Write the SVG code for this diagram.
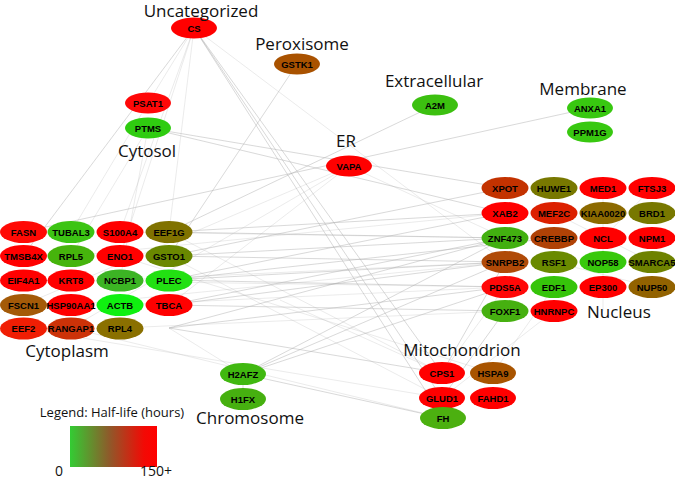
<svg xmlns="http://www.w3.org/2000/svg" width="675" height="479" viewBox="0 0 675 479">
<defs>
<style>
.n ellipse{stroke:none}
.n text{font-family:"Liberation Sans",Arial,sans-serif;font-weight:bold;font-size:9.5px;fill:#000;text-anchor:middle;dominant-baseline:central}
.lab{font-family:"Open Sans","Noto Sans",sans-serif;font-size:17px;fill:#111}
.e line{stroke:#b0b0b0;stroke-width:0.65;stroke-opacity:0.75}
.e line.f{stroke-opacity:0.4}
</style>
<linearGradient id="lg" x1="0" y1="0" x2="1" y2="0">
<stop offset="0" stop-color="#33cc33"/>
<stop offset="0.45" stop-color="#8e5a2a"/>
<stop offset="0.85" stop-color="#f20a05"/>
<stop offset="1" stop-color="#ff0000"/>
</linearGradient>
</defs>
<rect width="675" height="479" fill="#fff"/>
<g id="connectors" class="e">
<line x1="194" y1="28" x2="23" y2="256"/>
<line x1="194" y1="28" x2="120" y2="232" class="f"/>
<line x1="194" y1="28" x2="120" y2="256" class="f"/>
<line x1="194" y1="28" x2="169" y2="232" class="f"/>
<line x1="194" y1="28" x2="148" y2="103" class="f"/>
<line x1="194" y1="28" x2="442" y2="373"/>
<line x1="194" y1="28" x2="442" y2="398"/>
<line x1="194" y1="28" x2="443" y2="418"/>
<line x1="194" y1="28" x2="505" y2="262" class="f"/>
<line x1="297" y1="64" x2="169" y2="256"/>
<line x1="435" y1="105" x2="169" y2="232"/>
<line x1="590" y1="108" x2="23" y2="232"/>
<line x1="148" y1="128" x2="505" y2="188"/>
<line x1="148" y1="128" x2="505" y2="213"/>
<line x1="148" y1="128" x2="71" y2="256" class="f"/>
<line x1="148" y1="103" x2="71" y2="232" class="f"/>
<line x1="148" y1="128" x2="120" y2="280" class="f"/>
<line x1="349" y1="166" x2="169" y2="305" class="f"/>
<line x1="349" y1="166" x2="71" y2="328" class="f"/>
<line x1="349" y1="166" x2="505" y2="238" class="f"/>
<line x1="349" y1="166" x2="23" y2="305" class="f"/>
<line x1="169" y1="232" x2="505" y2="213"/>
<line x1="169" y1="232" x2="505" y2="238"/>
<line x1="169" y1="256" x2="505" y2="188"/>
<line x1="169" y1="256" x2="505" y2="262"/>
<line x1="169" y1="256" x2="505" y2="238"/>
<line x1="169" y1="280" x2="505" y2="213"/>
<line x1="169" y1="280" x2="505" y2="287"/>
<line x1="169" y1="280" x2="554" y2="238"/>
<line x1="169" y1="280" x2="505" y2="262"/>
<line x1="169" y1="305" x2="505" y2="238"/>
<line x1="169" y1="305" x2="505" y2="311"/>
<line x1="169" y1="305" x2="505" y2="262"/>
<line x1="169" y1="328" x2="505" y2="287"/>
<line x1="169" y1="328" x2="505" y2="238"/>
<line x1="169" y1="328" x2="442" y2="373"/>
<line x1="120" y1="328" x2="505" y2="311" class="f"/>
<line x1="120" y1="305" x2="505" y2="287" class="f"/>
<line x1="120" y1="280" x2="505" y2="262" class="f"/>
<line x1="71" y1="305" x2="505" y2="262" class="f"/>
<line x1="23" y1="328" x2="442" y2="398" class="f"/>
<line x1="71" y1="328" x2="443" y2="418" class="f"/>
<line x1="120" y1="232" x2="505" y2="238" class="f"/>
<line x1="71" y1="256" x2="505" y2="213" class="f"/>
<line x1="23" y1="280" x2="505" y2="287" class="f"/>
<line x1="169" y1="232" x2="442" y2="373" class="f"/>
<line x1="169" y1="256" x2="442" y2="398" class="f"/>
<line x1="120" y1="256" x2="493" y2="373" class="f"/>
<line x1="243" y1="374" x2="505" y2="238"/>
<line x1="243" y1="374" x2="505" y2="262"/>
<line x1="243" y1="374" x2="505" y2="287"/>
<line x1="243" y1="374" x2="443" y2="418"/>
<line x1="243" y1="374" x2="243" y2="399"/>
<line x1="243" y1="374" x2="169" y2="328" class="f"/>
<line x1="505" y1="262" x2="442" y2="373"/>
<line x1="505" y1="311" x2="442" y2="398"/>
<line x1="554" y1="287" x2="493" y2="373" class="f"/>
<line x1="505" y1="287" x2="442" y2="373" class="f"/>
<line x1="554" y1="311" x2="442" y2="398" class="f"/>
<line x1="442" y1="373" x2="280" y2="300" class="f"/>
<line x1="603" y1="188" x2="603" y2="311" class="f"/>
<line x1="554" y1="213" x2="652" y2="262" class="f"/>
<line x1="603" y1="238" x2="652" y2="188" class="f"/>
<line x1="554" y1="262" x2="652" y2="287" class="f"/>
</g>
<g id="n-CS" class="n"><ellipse cx="194" cy="28" rx="23" ry="10.5" fill="#ff0000"/><text x="194" y="28">CS</text></g>
<g id="n-GSTK1" class="n"><ellipse cx="297" cy="64" rx="23" ry="10.5" fill="#a95200"/><text x="297" y="64">GSTK1</text></g>
<g id="n-PSAT1" class="n"><ellipse cx="148" cy="103" rx="23" ry="10.5" fill="#ff0808"/><text x="148" y="103">PSAT1</text></g>
<g id="n-PTMS" class="n"><ellipse cx="148" cy="128" rx="23" ry="10.5" fill="#2fcc10"/><text x="148" y="128">PTMS</text></g>
<g id="n-A2M" class="n"><ellipse cx="435" cy="105" rx="23" ry="10.5" fill="#3cc010"/><text x="435" y="105">A2M</text></g>
<g id="n-ANXA1" class="n"><ellipse cx="590" cy="108" rx="23" ry="10.5" fill="#38c810"/><text x="590" y="108">ANXA1</text></g>
<g id="n-PPM1G" class="n"><ellipse cx="590" cy="132" rx="23" ry="10.5" fill="#38c810"/><text x="590" y="132">PPM1G</text></g>
<g id="n-VAPA" class="n"><ellipse cx="349" cy="166" rx="23" ry="10.5" fill="#ff0000"/><text x="349" y="166">VAPA</text></g>
<g id="n-FASN" class="n"><ellipse cx="23.5" cy="232" rx="23.5" ry="11" fill="#ff0a05"/><text x="23.5" y="232">FASN</text></g>
<g id="n-TUBAL3" class="n"><ellipse cx="71" cy="232" rx="23.5" ry="11" fill="#3cc414"/><text x="71" y="232">TUBAL3</text></g>
<g id="n-S100A4" class="n"><ellipse cx="120" cy="232" rx="23.5" ry="11" fill="#ff0000"/><text x="120" y="232">S100A4</text></g>
<g id="n-EEF1G" class="n"><ellipse cx="169" cy="232" rx="23.5" ry="11" fill="#807200"/><text x="169" y="232">EEF1G</text></g>
<g id="n-TMSB4X" class="n"><ellipse cx="23.5" cy="256" rx="23.5" ry="11" fill="#ff0000"/><text x="23.5" y="256">TMSB4X</text></g>
<g id="n-RPL5" class="n"><ellipse cx="71" cy="256" rx="23.5" ry="11" fill="#46b40c"/><text x="71" y="256">RPL5</text></g>
<g id="n-ENO1" class="n"><ellipse cx="120" cy="256" rx="23.5" ry="11" fill="#ff0000"/><text x="120" y="256">ENO1</text></g>
<g id="n-GSTO1" class="n"><ellipse cx="169" cy="256" rx="23.5" ry="11" fill="#6a8800"/><text x="169" y="256">GSTO1</text></g>
<g id="n-EIF4A1" class="n"><ellipse cx="23.5" cy="280.5" rx="23.5" ry="11" fill="#ff0000"/><text x="23.5" y="280.5">EIF4A1</text></g>
<g id="n-KRT8" class="n"><ellipse cx="71" cy="280.5" rx="23.5" ry="11" fill="#ff0000"/><text x="71" y="280.5">KRT8</text></g>
<g id="n-NCBP1" class="n"><ellipse cx="120" cy="280.5" rx="23.5" ry="11" fill="#3cb424"/><text x="120" y="280.5">NCBP1</text></g>
<g id="n-PLEC" class="n"><ellipse cx="169" cy="280.5" rx="23.5" ry="11" fill="#22e012"/><text x="169" y="280.5">PLEC</text></g>
<g id="n-FSCN1" class="n"><ellipse cx="23.5" cy="305" rx="23.5" ry="11" fill="#a45a08"/><text x="23.5" y="305">FSCN1</text></g>
<g id="n-HSP90AA1" class="n"><ellipse cx="71" cy="305" rx="23.5" ry="11" fill="#ff0000"/><text x="71" y="305">HSP90AA1</text></g>
<g id="n-ACTB" class="n"><ellipse cx="120" cy="305" rx="23.5" ry="11" fill="#10f010"/><text x="120" y="305">ACTB</text></g>
<g id="n-TBCA" class="n"><ellipse cx="169" cy="305" rx="23.5" ry="11" fill="#ff0000"/><text x="169" y="305">TBCA</text></g>
<g id="n-EEF2" class="n"><ellipse cx="23.5" cy="328.5" rx="23.5" ry="11" fill="#f01e04"/><text x="23.5" y="328.5">EEF2</text></g>
<g id="n-RANGAP1" class="n"><ellipse cx="71" cy="328.5" rx="23.5" ry="11" fill="#cc3208"/><text x="71" y="328.5">RANGAP1</text></g>
<g id="n-RPL4" class="n"><ellipse cx="120" cy="328.5" rx="23.5" ry="11" fill="#8a7000"/><text x="120" y="328.5">RPL4</text></g>
<g id="n-XPOT" class="n"><ellipse cx="505" cy="188" rx="23.5" ry="11" fill="#c33200"/><text x="505" y="188">XPOT</text></g>
<g id="n-HUWE1" class="n"><ellipse cx="554" cy="188" rx="23.5" ry="11" fill="#787800"/><text x="554" y="188">HUWE1</text></g>
<g id="n-MED1" class="n"><ellipse cx="603" cy="188" rx="23.5" ry="11" fill="#ff0000"/><text x="603" y="188">MED1</text></g>
<g id="n-FTSJ3" class="n"><ellipse cx="652" cy="188" rx="23.5" ry="11" fill="#ff0000"/><text x="652" y="188">FTSJ3</text></g>
<g id="n-XAB2" class="n"><ellipse cx="505" cy="213" rx="23.5" ry="11" fill="#ff0000"/><text x="505" y="213">XAB2</text></g>
<g id="n-MEF2C" class="n"><ellipse cx="554" cy="213" rx="23.5" ry="11" fill="#dc2000"/><text x="554" y="213">MEF2C</text></g>
<g id="n-KIAA0020" class="n"><ellipse cx="603" cy="213" rx="23.5" ry="11" fill="#8c6a00"/><text x="603" y="213">KIAA0020</text></g>
<g id="n-BRD1" class="n"><ellipse cx="652" cy="213" rx="23.5" ry="11" fill="#787800"/><text x="652" y="213">BRD1</text></g>
<g id="n-ZNF473" class="n"><ellipse cx="505" cy="238" rx="23.5" ry="11" fill="#42b010"/><text x="505" y="238">ZNF473</text></g>
<g id="n-CREBBP" class="n"><ellipse cx="554" cy="238" rx="23.5" ry="11" fill="#b04206"/><text x="554" y="238">CREBBP</text></g>
<g id="n-NCL" class="n"><ellipse cx="603" cy="238" rx="23.5" ry="11" fill="#ff0000"/><text x="603" y="238">NCL</text></g>
<g id="n-NPM1" class="n"><ellipse cx="652" cy="238" rx="23.5" ry="11" fill="#ff0000"/><text x="652" y="238">NPM1</text></g>
<g id="n-SNRPB2" class="n"><ellipse cx="505" cy="262" rx="23.5" ry="11" fill="#b04a08"/><text x="505" y="262">SNRPB2</text></g>
<g id="n-RSF1" class="n"><ellipse cx="554" cy="262" rx="23.5" ry="11" fill="#6a8a00"/><text x="554" y="262">RSF1</text></g>
<g id="n-NOP58" class="n"><ellipse cx="603" cy="262" rx="23.5" ry="11" fill="#38c80c"/><text x="603" y="262">NOP58</text></g>
<g id="n-SMARCA5" class="n"><ellipse cx="652" cy="262" rx="23.5" ry="11" fill="#6e8200"/><text x="652" y="262">SMARCA5</text></g>
<g id="n-PDS5A" class="n"><ellipse cx="505" cy="287" rx="23.5" ry="11" fill="#ff0808"/><text x="505" y="287">PDS5A</text></g>
<g id="n-EDF1" class="n"><ellipse cx="554" cy="287" rx="23.5" ry="11" fill="#36c40a"/><text x="554" y="287">EDF1</text></g>
<g id="n-EP300" class="n"><ellipse cx="603" cy="287" rx="23.5" ry="11" fill="#ff0000"/><text x="603" y="287">EP300</text></g>
<g id="n-NUP50" class="n"><ellipse cx="652" cy="287" rx="23.5" ry="11" fill="#926200"/><text x="652" y="287">NUP50</text></g>
<g id="n-FOXF1" class="n"><ellipse cx="505" cy="311" rx="23.5" ry="11" fill="#46b010"/><text x="505" y="311">FOXF1</text></g>
<g id="n-HNRNPC" class="n"><ellipse cx="554" cy="311" rx="23.5" ry="11" fill="#ff0000"/><text x="554" y="311">HNRNPC</text></g>
<g id="n-H2AFZ" class="n"><ellipse cx="243" cy="374" rx="23" ry="11" fill="#40b810"/><text x="243" y="374">H2AFZ</text></g>
<g id="n-H1FX" class="n"><ellipse cx="243" cy="399" rx="23" ry="11" fill="#46b010"/><text x="243" y="399">H1FX</text></g>
<g id="n-CPS1" class="n"><ellipse cx="442" cy="373" rx="23" ry="11" fill="#ff0000"/><text x="442" y="373">CPS1</text></g>
<g id="n-HSPA9" class="n"><ellipse cx="493" cy="373" rx="23" ry="11" fill="#a85400"/><text x="493" y="373">HSPA9</text></g>
<g id="n-GLUD1" class="n"><ellipse cx="442" cy="398" rx="23" ry="11" fill="#ff0000"/><text x="442" y="398">GLUD1</text></g>
<g id="n-FAHD1" class="n"><ellipse cx="493" cy="398" rx="23" ry="11" fill="#ff0000"/><text x="493" y="398">FAHD1</text></g>
<g id="n-FH" class="n"><ellipse cx="443" cy="418" rx="23" ry="11" fill="#4cb010"/><text x="443" y="418">FH</text></g>
<g id="labels">
<text class="lab" x="201" y="16.5" text-anchor="middle" font-size="16.5">Uncategorized</text>
<text class="lab" x="302" y="50" text-anchor="middle">Peroxisome</text>
<text class="lab" x="434" y="87" text-anchor="middle">Extracellular</text>
<text class="lab" x="583" y="95" text-anchor="middle">Membrane</text>
<text class="lab" x="346" y="147" text-anchor="middle">ER</text>
<text class="lab" x="147" y="157" text-anchor="middle">Cytosol</text>
<text class="lab" x="67" y="357" text-anchor="middle">Cytoplasm</text>
<text class="lab" x="587" y="318">Nucleus</text>
<text class="lab" x="462" y="356" text-anchor="middle">Mitochondrion</text>
<text class="lab" x="250" y="424" text-anchor="middle">Chromosome</text>
</g>
<g id="legend">
<text x="112" y="417" text-anchor="middle" font-family="'Open Sans','Noto Sans',sans-serif" font-size="13" fill="#111">Legend: Half-life (hours)</text>
<rect x="70" y="426" width="87" height="41" fill="url(#lg)"/>
<text x="59" y="476" text-anchor="middle" font-family="'Open Sans','Noto Sans',sans-serif" font-size="14" fill="#111">0</text>
<text x="156" y="476" text-anchor="middle" font-family="'Open Sans','Noto Sans',sans-serif" font-size="14" fill="#111">150+</text>
</g>
</svg>
